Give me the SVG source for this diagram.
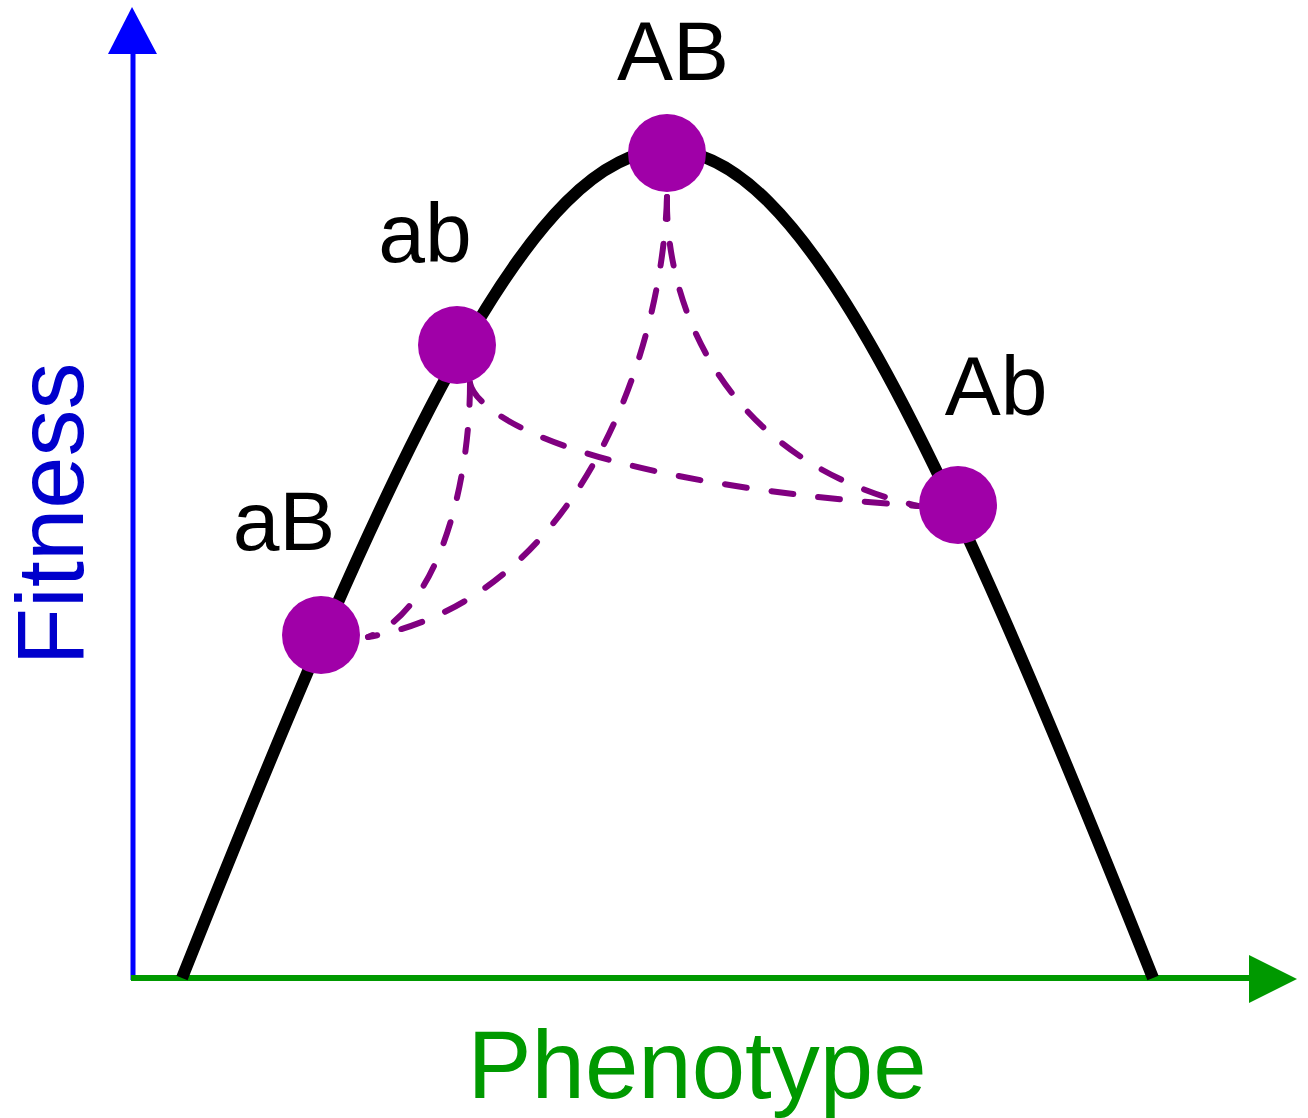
<svg xmlns="http://www.w3.org/2000/svg" width="1308" height="1118" viewBox="0 0 1308 1118">
<style>
.lbl{font-family:"Liberation Sans",Arial,sans-serif;font-size:84px;fill:#000;text-anchor:middle}
.ax{font-family:"Liberation Sans",Arial,sans-serif;font-size:94px;text-anchor:middle}
.node{fill:#A000A8}
.dash{fill:none;stroke:#800080;stroke-width:6;stroke-dasharray:22 25;stroke-linecap:round}
</style>
<rect width="1308" height="1118" fill="#fff"/>
<g id="axes">
<line x1="133" y1="980" x2="133" y2="50" stroke="#0000FF" stroke-width="5"/>
<polygon points="132,7 108,54 157,54" fill="#0000FF"/>
<line x1="131" y1="978" x2="1252" y2="978" stroke="#009900" stroke-width="6"/>
<polygon points="1297,979 1249,955 1249,1003" fill="#009900"/>
<text class="ax" fill="#0000CC" transform="translate(83,514) rotate(-90)">Fitness</text>
<text class="ax" fill="#009900" x="697" y="1098" style="font-size:96px">Phenotype</text>
</g>
<g id="landscape">
<path d="M182,978 C622,-126 713,-126 1153,978" fill="none" stroke="#000" stroke-width="12"/>
</g>
<g id="connectors">
<path class="dash" d="M667,197 C662,360 575,600 368,637"/>
<path class="dash" d="M667,197 C665,300 720,460 918,506"/>
<path class="dash" d="M470,383 C470,480 440,610 368,637"/>
<path class="dash" d="M470,383 C475,410 560,480 918,506"/>
</g>
<g id="node-AB"><circle class="node" cx="667" cy="153" r="39"/><text class="lbl" x="673" y="80">AB</text></g>
<g id="node-ab"><circle class="node" cx="457" cy="345" r="39"/><text class="lbl" x="425" y="262">ab</text></g>
<g id="node-Ab"><circle class="node" cx="958" cy="505" r="39"/><text class="lbl" x="996" y="415">Ab</text></g>
<g id="node-aB"><circle class="node" cx="321" cy="635" r="39"/><text class="lbl" x="284" y="550">aB</text></g>
</svg>
